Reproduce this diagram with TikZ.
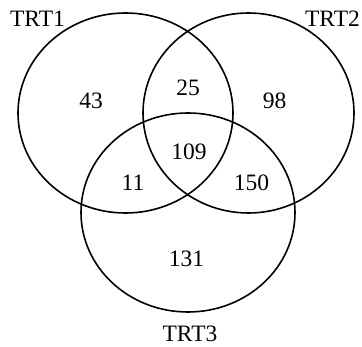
\documentclass[tikz,border=0pt]{standalone}
\usepackage{fontspec}
\setmainfont{Liberation Serif}
\begin{document}
\begin{tikzpicture}[x=1pt,y=-1pt,
  setline/.style={draw=black,line width=1.6pt},
  lbl/.style={font=\fontsize{23.5}{25}\selectfont,inner sep=0pt,anchor=center}]
\useasboundingbox (0,0) rectangle (362,347);
% three sets
\draw[setline] (125.5,113) ellipse [x radius=107.5,y radius=100];
\draw[setline] (248.5,113) ellipse [x radius=105.5,y radius=100];
\draw[setline] (188,212.5) ellipse [x radius=107,y radius=99.5];
% set names
\node[lbl] (t1) at (37.5,19) {TRT1};
\node[lbl] (t2) at (332.5,19) {TRT2};
\node[lbl] (t3) at (190,334) {TRT3};
% region counts
\node[lbl] (a) at (91,101) {43};
\node[lbl] (ab) at (188,88) {25};
\node[lbl] (b) at (274.5,101) {98};
\node[lbl] (abc) at (189,152) {109};
\node[lbl] (ac) at (133,183) {11};
\node[lbl] (bc) at (251.5,183) {150};
\node[lbl] (c) at (186.5,259) {131};
\end{tikzpicture}
\end{document}
